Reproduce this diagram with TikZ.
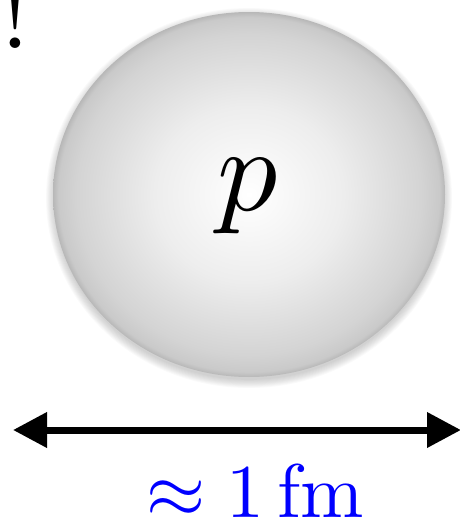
\documentclass[tikz,border=0pt]{standalone}
\usetikzlibrary{arrows.meta}
\pgfdeclareradialshading{ballshade}{\pgfpoint{0bp}{0bp}}{%
  color(0bp)=(white);
  color(12bp)=(black!7);
  color(22bp)=(black!17);
  color(24.3bp)=(black!21);
  color(25bp)=(black!28);
  color(50bp)=(black!28)}
\tikzset{
  lbl/.style={inner sep=0pt, anchor=base},
  dimarrow/.style={line width=7pt, {Triangle[length=34pt,width=34pt]}-{Triangle[length=34pt,width=34pt]}}
}
\begin{document}
\begin{tikzpicture}[x=1pt,y=-1pt]
\useasboundingbox (0,0) rectangle (460,517);
% soft shadow
\foreach \i in {1,...,10}
  \fill[black,opacity=0.018] (249,198) ellipse ({194+\i*0.9} and {181+\i*0.9});
% ball
\shade[shading=ballshade] (249,194.5) ellipse (196 and 182.5);
\node[lbl, scale=12] (p) at (248,210) {$p$};
\node[lbl, scale=10] (excl) at (15,48) {!};
% dimension arrow
\coordinate (L) at (13,430);
\coordinate (R) at (461,430);
\draw[dimarrow] (L) -- (R);
\node[lbl, scale=7.6, text={rgb,255:red,0;green,0;blue,255}] (size) at (255,517) {$\approx 1\,\mathrm{fm}$};
\end{tikzpicture}
\end{document}
